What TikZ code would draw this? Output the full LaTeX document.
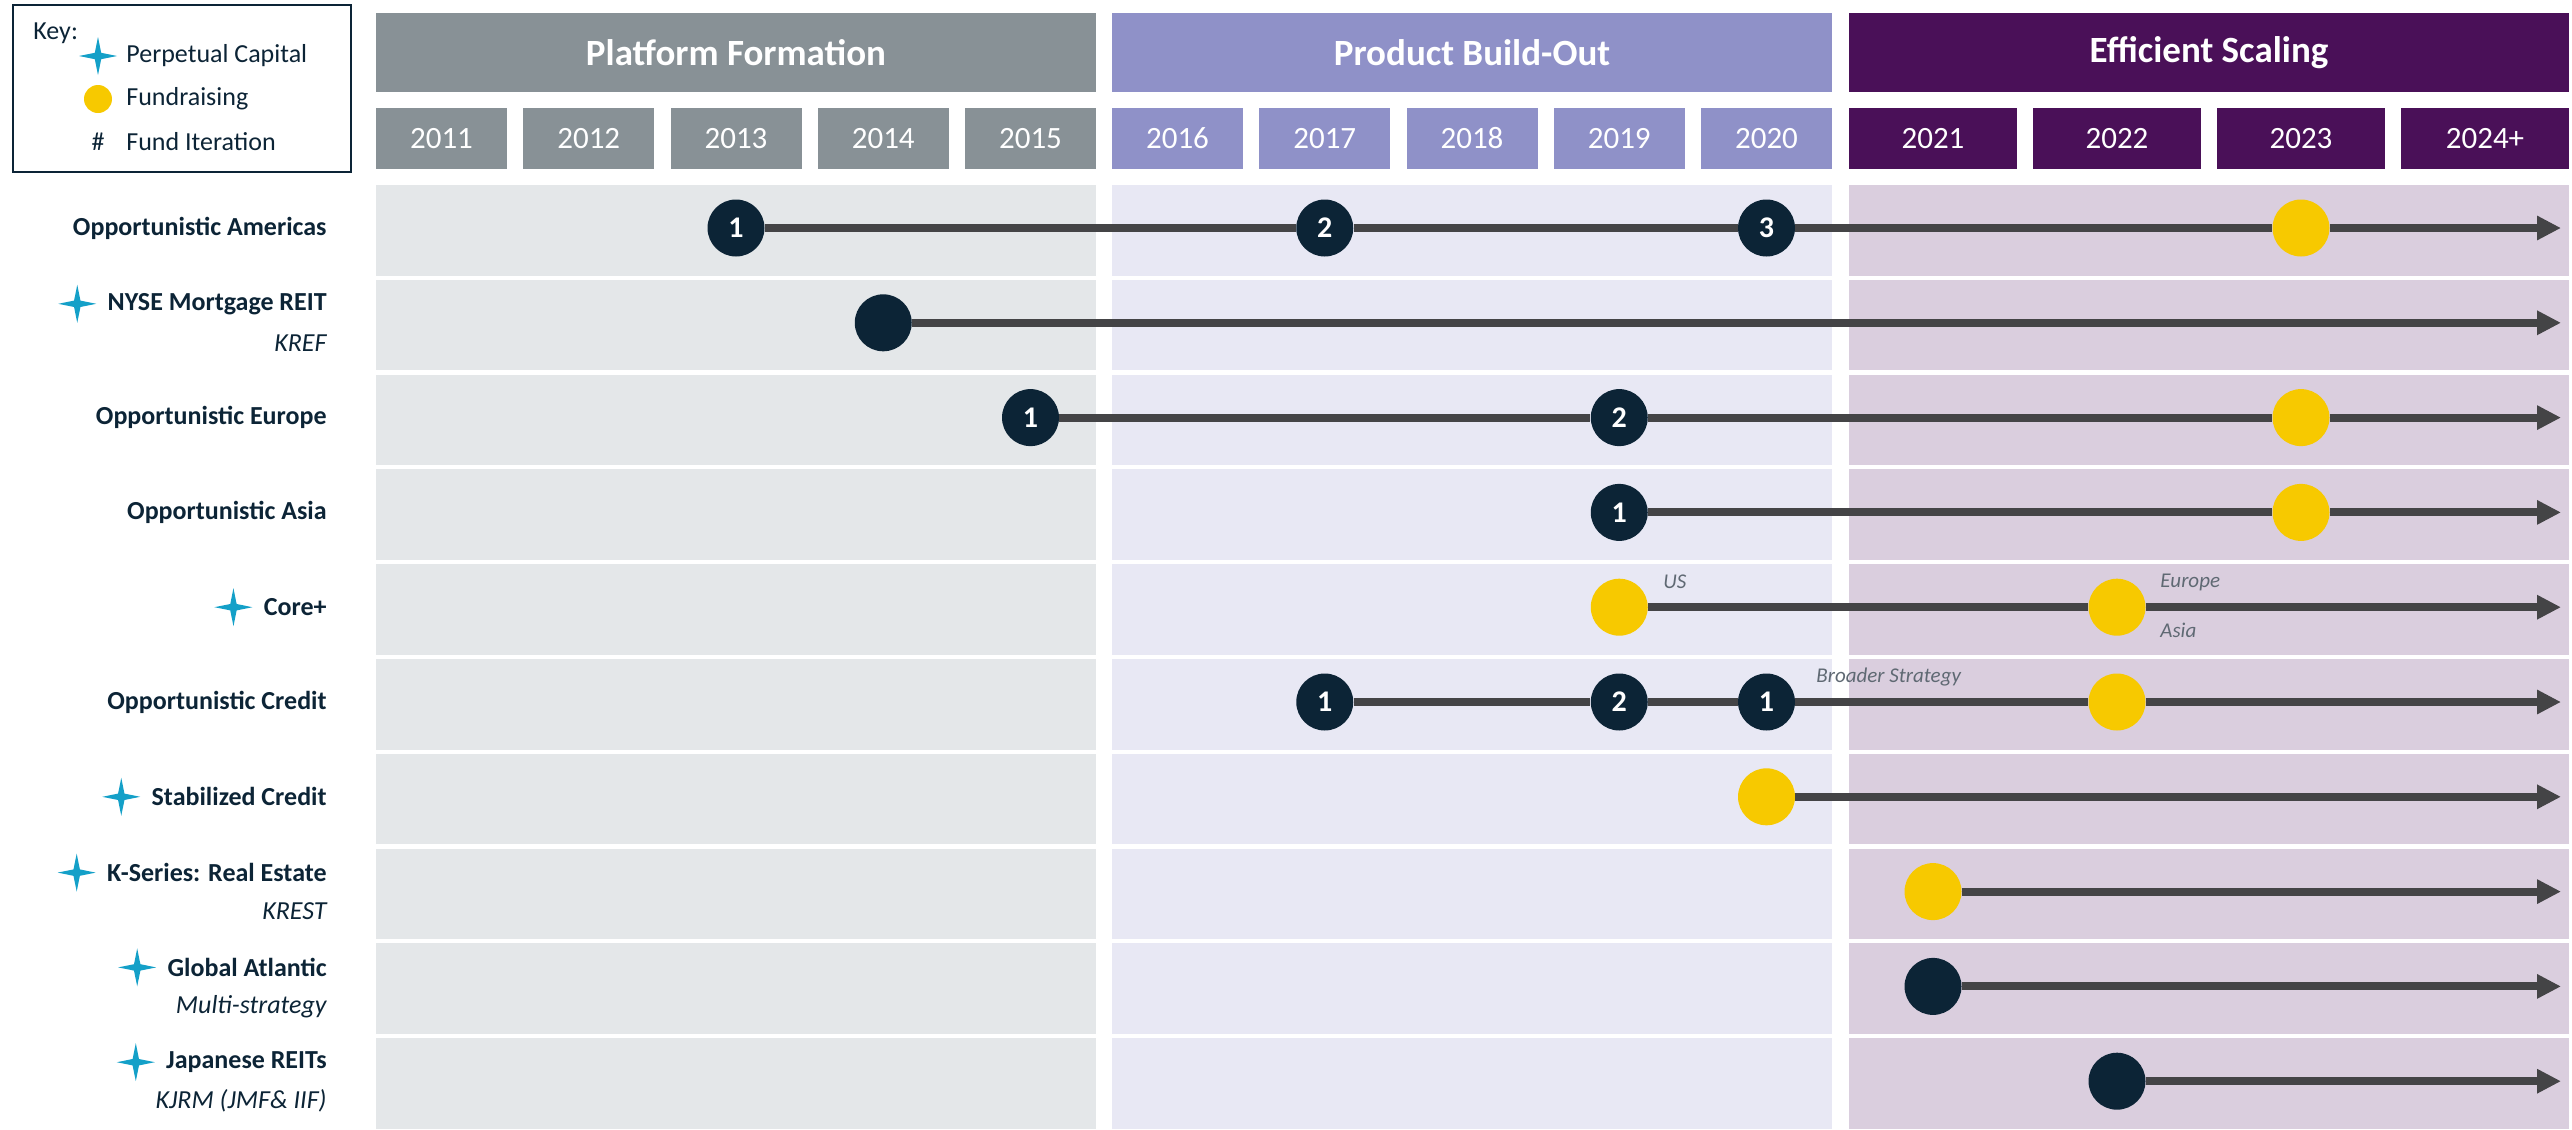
\documentclass[tikz,border=0pt]{standalone}
\usepackage{fontspec}
\setmainfont{Carlito}
\usetikzlibrary{arrows.meta,positioning,shapes.geometric}
\definecolor{navy}{HTML}{0C2436}
\definecolor{gold}{HTML}{F7C900}
\definecolor{cyanstar}{HTML}{14A0C8}
\definecolor{lineg}{HTML}{444446}
\definecolor{noteg}{HTML}{5F6973}
\definecolor{slateA}{HTML}{889196}
\definecolor{bandA}{HTML}{E4E7E9}
\definecolor{lavB}{HTML}{8F91C8}
\definecolor{bandB}{HTML}{E8E8F4}
\definecolor{plumC}{HTML}{4A1058}
\definecolor{bandC}{HTML}{DACEDE}
\tikzset{
  phasebox/.style={minimum width=360pt, minimum height=39.5pt, inner sep=0pt,
                   text=white, font=\bfseries\fontsize{18.5}{20}\selectfont},
  yearbox/.style={minimum width=65.5pt, minimum height=30.5pt, inner sep=0pt,
                  text=white, font=\fontsize{15.5}{17}\selectfont},
  yearwide/.style={yearbox, minimum width=84pt},
  rowlab/.style={anchor=east, inner sep=0pt, text=navy, font=\bfseries\fontsize{13}{15}\selectfont},
  sublab/.style={anchor=east, inner sep=0pt, text=navy, font=\itshape\fontsize{13}{15}\selectfont},
  keytxt/.style={inner sep=0pt, text=navy, font=\fontsize{13}{15}\selectfont},
  notetxt/.style={anchor=west, inner sep=0pt, text=noteg, font=\itshape\fontsize{10.5}{12}\selectfont},
  pstar/.style={star, star points=4, star point ratio=4.2, minimum size=19pt,
                inner sep=0pt, fill=cyanstar},
  iterdot/.style={circle, fill=navy, minimum size=28.5pt, inner sep=0pt,
                  text=white, font=\bfseries\fontsize{15}{15}\selectfont},
  raisedot/.style={circle, fill=gold, minimum size=28.5pt, inner sep=0pt},
  tline/.style={draw=lineg, line width=4pt, -{Triangle[length=12pt,width=11.5pt]}},
}

\begin{document}
\begin{tikzpicture}[x=0.5pt, y=-0.5pt]
  \useasboundingbox (0,0) rectangle (2572,1130);

  % key
  \node[draw=navy, line width=1.25pt, minimum width=169pt, minimum height=83.5pt] (key) at (182,88.5) {};
  \node[keytxt, anchor=west] (keyT) at (33,33) {Key:};
  \node[pstar] (kStar) at (98,56) {};
  \node[keytxt, anchor=west] (kStarT) at (126,56) {Perpetual Capital};
  \node[raisedot, minimum size=14pt] (kDot) at (98,99) {};
  \node[keytxt, anchor=west] (kDotT) at (126,99) {Fundraising};
  \node[keytxt] (kHash) at (98,142) {\#};
  \node[keytxt, anchor=west] (kHashT) at (126,142) {Fund Iteration};

  % phases and years
  \node[phasebox, fill=slateA] (phA) at (736,52.5) {Platform Formation};
  \node[phasebox, fill=lavB] (phB) at (1472,52.5) {Product Build-Out};
  \node[phasebox, fill=plumC] (phC) at (2209,52.5) {Efficient Scaling};
  \foreach \yr [count=\k from 0] in {2011,2012,2013,2014,2015}
    \node[yearbox, fill=slateA] (y\yr) at ({441.5+147.25*\k},138.5) {\yr};
  \foreach \yr [count=\k from 0] in {2016,2017,2018,2019,2020}
    \node[yearbox, fill=lavB] (y\yr) at ({1177.5+147.25*\k},138.5) {\yr};
  \foreach \yr [count=\k from 0] in {2021,2022,2023}
    \node[yearwide, fill=plumC] (y\yr) at ({1933+184*\k},138.5) {\yr};
  \node[yearwide, fill=plumC] (y2024) at (2485,138.5) {2024+};

  % row bands
  \foreach \i in {0,...,9} {
    \fill[bandA] (376,{185+94.8*\i}) rectangle ++(720,90.5);
    \fill[bandB] (1112,{185+94.8*\i}) rectangle ++(720,90.5);
    \fill[bandC] (1849,{185+94.8*\i}) rectangle ++(720,90.5);
  }
  \foreach \i in {1,...,10}
    \coordinate (r\i) at (0,{228+94.8*(\i-1)});
  \coordinate (tip) at (2561,0);

  % row labels
  \node[rowlab] (tAm) at (327,228) {Opportunistic Americas};
  \node[rowlab] (tNy) at (327,303.8) {NYSE Mortgage REIT};
  \node[sublab] (sNyT) at (327,342.8) {KREF};
  \node[pstar, left=4.5pt of tNy] (sNy) {};
  \node[rowlab] (tEu) at (327,417.6) {Opportunistic Europe};
  \node[rowlab] (tAs) at (327,512.4) {Opportunistic Asia};
  \node[rowlab] (tCo) at (327,607.2) {Core+};
  \node[pstar, left=4.5pt of tCo] (sCo) {};
  \node[rowlab] (tCr) at (327,702) {Opportunistic Credit};
  \node[rowlab] (tSt) at (327,796.8) {Stabilized Credit};
  \node[pstar, left=4.5pt of tSt] (sSt) {};
  \node[rowlab] (tKs) at (327,872.6) {K-Series: Real Estate};
  \node[sublab] (sKsT) at (327,911.6) {KREST};
  \node[pstar, left=4.5pt of tKs] (sKs) {};
  \node[rowlab] (tGa) at (327,967.4) {Global Atlantic};
  \node[sublab] (sGaT) at (327,1006.4) {Multi-strategy};
  \node[pstar, left=4.5pt of tGa] (sGa) {};
  \node[rowlab] (tJp) at (327,1062.2) {Japanese REITs};
  \node[sublab] (sJpT) at (327,1101.2) {KJRM (JMF\& IIF)};
  \node[pstar, left=4.5pt of tJp] (sJp) {};

  % Opportunistic Americas
  \node[iterdot] (am1) at (y2013 |- r1) {1};
  \node[iterdot] (am2) at (y2017 |- r1) {2};
  \node[iterdot] (am3) at (y2020 |- r1) {3};
  \node[raisedot] (amF) at (y2023 |- r1) {};
  \draw[tline] (am1) -- (am2) -- (am3) -- (amF) -- (tip |- r1);

  % NYSE Mortgage REIT
  \node[iterdot] (ny1) at (y2014 |- r2) {};
  \draw[tline] (ny1) -- (tip |- r2);

  % Opportunistic Europe
  \node[iterdot] (eu1) at (y2015 |- r3) {1};
  \node[iterdot] (eu2) at (y2019 |- r3) {2};
  \node[raisedot] (euF) at (y2023 |- r3) {};
  \draw[tline] (eu1) -- (eu2) -- (euF) -- (tip |- r3);

  % Opportunistic Asia
  \node[iterdot] (as1) at (y2019 |- r4) {1};
  \node[raisedot] (asF) at (y2023 |- r4) {};
  \draw[tline] (as1) -- (asF) -- (tip |- r4);

  % Core+
  \node[raisedot] (co1) at (y2019 |- r5) {};
  \node[raisedot] (co2) at (y2022 |- r5) {};
  \draw[tline] (co1) -- (co2) -- (tip |- r5);
  \node[notetxt] (nUs) at (1663,582) {US};
  \node[notetxt] (nEu) at (2160,582) {Europe};
  \node[notetxt] (nAs) at (2160,630) {Asia};

  % Opportunistic Credit
  \node[iterdot] (cr1) at (y2017 |- r6) {1};
  \node[iterdot] (cr2) at (y2019 |- r6) {2};
  \node[iterdot] (cr3) at (y2020 |- r6) {1};
  \node[raisedot] (crF) at (y2022 |- r6) {};
  \draw[tline] (cr1) -- (cr2) -- (cr3) -- (crF) -- (tip |- r6);
  \node[notetxt] (nBs) at (1816,677) {Broader Strategy};

  % Stabilized Credit, K-Series, Global Atlantic, Japanese REITs
  \node[raisedot] (st1) at (y2020 |- r7) {};
  \draw[tline] (st1) -- (tip |- r7);
  \node[raisedot] (ks1) at (y2021 |- r8) {};
  \draw[tline] (ks1) -- (tip |- r8);
  \node[iterdot] (ga1) at (y2021 |- r9) {};
  \draw[tline] (ga1) -- (tip |- r9);
  \node[iterdot] (jp1) at (y2022 |- r10) {};
  \draw[tline] (jp1) -- (tip |- r10);
\end{tikzpicture}
\end{document}
